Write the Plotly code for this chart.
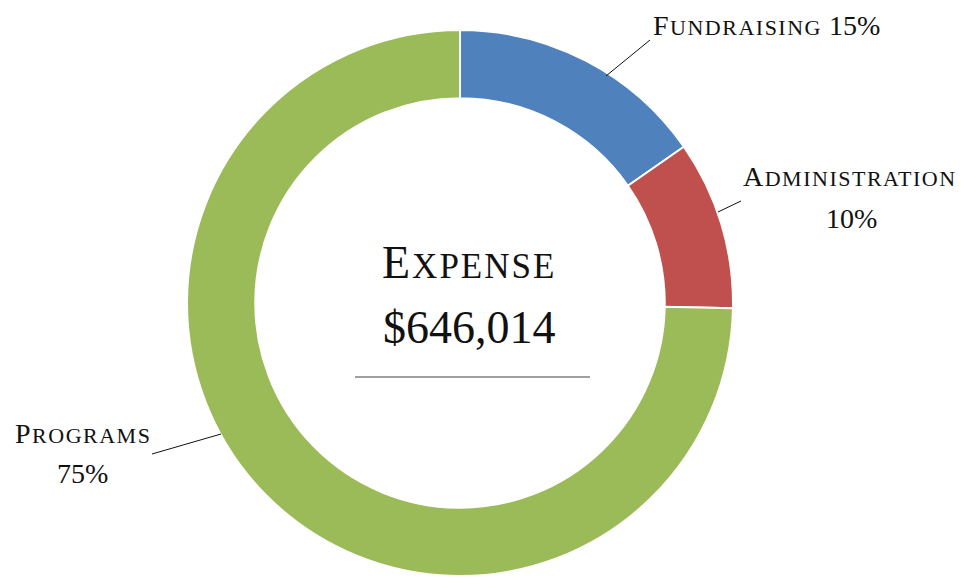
import plotly.graph_objects as go

W, H = 970, 578
OFF = 8  # page body margin offset

categories = ["Fundraising", "Administration", "Programs"]
shares = [15.3, 10.0, 74.7]  # estimated shares of total expense (%)
colors = ["#4F81BD", "#C0504D", "#9BBB59"]
center_title = "Expense"
total_text = "$646,014"

FONT = "Liberation Serif"
pct = [f"{round(v)}%" for v in shares]


def smallcaps(word, big, small, ls=1.5):
    return (f"<span style='font-size:{big}px;letter-spacing:{ls}px'>{word[0].upper()}</span>"
            f"<span style='font-size:{small}px;letter-spacing:{ls}px'>{word[1:].upper()}</span>")


def px_x(x):
    return (x - OFF) / W


def px_y(y):
    return 1 - (y - OFF) / H


fig = go.Figure()

cx, cy, R = 460, 303, 273
fig.add_trace(go.Pie(
    labels=categories,
    values=shares,
    hole=0.75,
    sort=False,
    direction="clockwise",
    rotation=0,
    textinfo="none",
    hoverinfo="label+percent",
    marker=dict(colors=colors, line=dict(color="white", width=2)),
    domain=dict(x=[px_x(cx - R), px_x(cx + R)], y=[px_y(cy + R), px_y(cy - R)]),
    showlegend=False,
))

anns = []
big, small = 28, 22
anns.append(dict(x=px_x(651), y=px_y(25), xanchor="left", yanchor="middle",
                 text=smallcaps(categories[0], big, small) + f" <span style='font-size:{big}px'>{pct[0]}</span>"))
anns.append(dict(x=px_x(850), y=px_y(177), xanchor="center", yanchor="middle",
                 text=smallcaps(categories[1], big, small)))
anns.append(dict(x=px_x(851), y=px_y(218), xanchor="center", yanchor="middle",
                 text=f"<span style='font-size:{big}px'>{pct[1]}</span>"))
anns.append(dict(x=px_x(83), y=px_y(433), xanchor="center", yanchor="middle",
                 text=smallcaps(categories[2], big, small)))
anns.append(dict(x=px_x(82), y=px_y(473), xanchor="center", yanchor="middle",
                 text=f"<span style='font-size:{big}px'>{pct[2]}</span>"))
anns.append(dict(x=px_x(469), y=px_y(262), xanchor="center", yanchor="middle",
                 text=smallcaps(center_title, 46, 35, ls=2)))
anns.append(dict(x=px_x(469), y=px_y(327), xanchor="center", yanchor="middle",
                 text=f"<span style='font-size:46px'>{total_text}</span>"))

for a in anns:
    a.update(xref="paper", yref="paper", showarrow=False,
             font=dict(family=FONT, size=28, color="#111111"))

shapes = [
    dict(type="line", xref="paper", yref="paper", x0=px_x(606), y0=px_y(76), x1=px_x(650), y1=px_y(40),
         line=dict(color="#111111", width=1)),
    dict(type="line", xref="paper", yref="paper", x0=px_x(718), y0=px_y(212), x1=px_x(741), y1=px_y(201),
         line=dict(color="#111111", width=1)),
    dict(type="line", xref="paper", yref="paper", x0=px_x(152), y0=px_y(454), x1=px_x(221), y1=px_y(434),
         line=dict(color="#111111", width=1)),
    dict(type="line", xref="paper", yref="paper", x0=px_x(355), y0=px_y(377), x1=px_x(590), y1=px_y(377),
         line=dict(color="#808080", width=1.5)),
]

fig.update_layout(
    width=W, height=H,
    margin=dict(l=0, r=0, t=0, b=0),
    paper_bgcolor="white", plot_bgcolor="white",
    annotations=anns, shapes=shapes,
)

fig.write_html("out.html")
